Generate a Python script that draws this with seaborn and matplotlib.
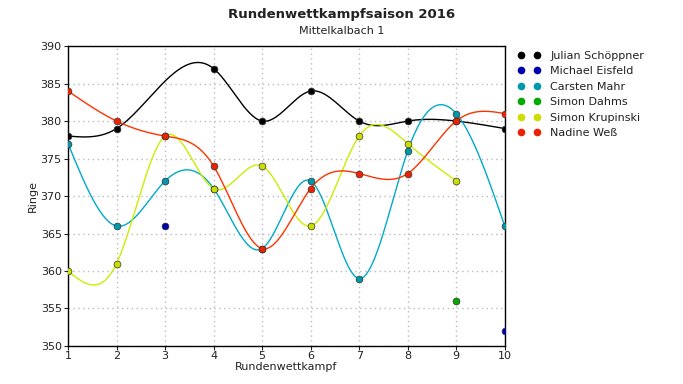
import numpy as np
import seaborn as sns
import matplotlib.pyplot as plt
from matplotlib.lines import Line2D

# Ringe per Rundenwettkampf (None = nicht geschossen)
rounds = [1, 2, 3, 4, 5, 6, 7, 8, 9, 10]
julian = [378, 379, None, 387, 380, 384, 380, 380, 380, 379]
michael = [None, None, 366, None, None, None, None, None, None, 352]
carsten = [377, 366, 372, 371, 363, 372, 359, 376, 381, 366]
dahms = [None, None, None, None, None, None, None, None, 356, None]
krupinski = [360, 361, 378, 371, 374, 366, 378, 377, 372, None]
nadine = [384, 380, 378, 374, 363, 371, 373, 373, 380, 381]

names = ["Julian Schöppner", "Michael Eisfeld", "Carsten Mahr",
         "Simon Dahms", "Simon Krupinski", "Nadine Weß"]
series = [julian, michael, carsten, dahms, krupinski, nadine]
line_colors = ["#000000", "#0000aa", "#00aac8", "#00aa00", "#ccee00", "#ff3300"]
marker_colors = ["#000000", "#0000aa", "#0099aa", "#00aa00", "#ccdd00", "#ee2200"]


def natural_spline(x, y, n=300):
    # natural cubic spline through the given points, just for drawing the curve
    x = np.asarray(x, float)
    y = np.asarray(y, float)
    k = len(x)
    h = np.diff(x)
    A = np.zeros((k, k))
    b = np.zeros(k)
    A[0, 0] = A[-1, -1] = 1
    for i in range(1, k - 1):
        A[i, i - 1] = h[i - 1]
        A[i, i] = 2 * (h[i - 1] + h[i])
        A[i, i + 1] = h[i]
        b[i] = 3 * ((y[i + 1] - y[i]) / h[i] - (y[i] - y[i - 1]) / h[i - 1])
    c = np.linalg.solve(A, b)
    xs = np.linspace(x[0], x[-1], n)
    idx = np.clip(np.searchsorted(x, xs) - 1, 0, k - 2)
    dx = xs - x[idx]
    bb = (y[idx + 1] - y[idx]) / h[idx] - h[idx] * (2 * c[idx] + c[idx + 1]) / 3
    dd = (c[idx + 1] - c[idx]) / (3 * h[idx])
    ys = y[idx] + bb * dx + c[idx] * dx ** 2 + dd * dx ** 3
    return xs, ys


sns.set_style("white")
plt.rcParams["font.family"] = ["DejaVu Sans"]
plt.rcParams["text.color"] = "#222222"
plt.rcParams["axes.labelcolor"] = "#222222"
plt.rcParams["xtick.color"] = "#222222"
plt.rcParams["ytick.color"] = "#222222"

fig = plt.figure(figsize=(6.83, 3.84), dpi=100)
ax = fig.add_axes([0.0996, 0.099, 0.6394, 0.781])

for vals, lc in zip(series, line_colors):
    xs = [r for r, v in zip(rounds, vals) if v is not None]
    ys = [v for v in vals if v is not None]
    if len(xs) >= 3:
        sx, sy = natural_spline(xs, ys)
        sns.lineplot(x=sx, y=sy, ax=ax, color=lc, linewidth=1.0, sort=False,
                     estimator=None, legend=False, zorder=2)

for vals, mc in zip(series, marker_colors):
    xs = [r for r, v in zip(rounds, vals) if v is not None]
    ys = [v for v in vals if v is not None]
    sns.scatterplot(x=xs, y=ys, ax=ax, color=mc, s=24, marker="o",
                    edgecolor="#333333", linewidth=0.5, legend=False,
                    zorder=3, clip_on=True)

ax.set_xlim(1, 10)
ax.set_ylim(350, 390)
ax.set_xticks(rounds)
ax.set_yticks(range(350, 391, 5))
ax.tick_params(labelsize=8, length=3, width=0.8, direction="out", pad=1.5,
               left=True, bottom=True)
ax.tick_params(axis="x", pad=0.5)
ax.grid(True, linestyle=(0, (1, 2.5)), color="#bbbbbb", linewidth=1.0)
for s in ax.spines.values():
    s.set_color("black")
    s.set_linewidth(1.0)
ax.set_xlabel("Rundenwettkampf", fontsize=8, labelpad=1)
ax.set_ylabel("Ringe", fontsize=8, labelpad=2)

fig.text(0.5, 0.963, "Rundenwettkampfsaison 2016", ha="center", va="center",
         fontsize=9.5, fontweight="bold")
fig.text(0.5, 0.918, "Mittelkalbach 1", ha="center", va="center", fontsize=8)

handles = [Line2D([0], [0], linestyle="none", marker="o", markersize=4.5,
                  markerfacecolor=mc, markeredgecolor=mc) for mc in marker_colors]
fig.legend(handles, names, loc="upper left", bbox_to_anchor=(0.752, 0.88),
           numpoints=2, frameon=False, fontsize=8, handlelength=2.0,
           handletextpad=0.9, labelspacing=0.5, borderaxespad=0)

plt.savefig("out.png", dpi=100)
